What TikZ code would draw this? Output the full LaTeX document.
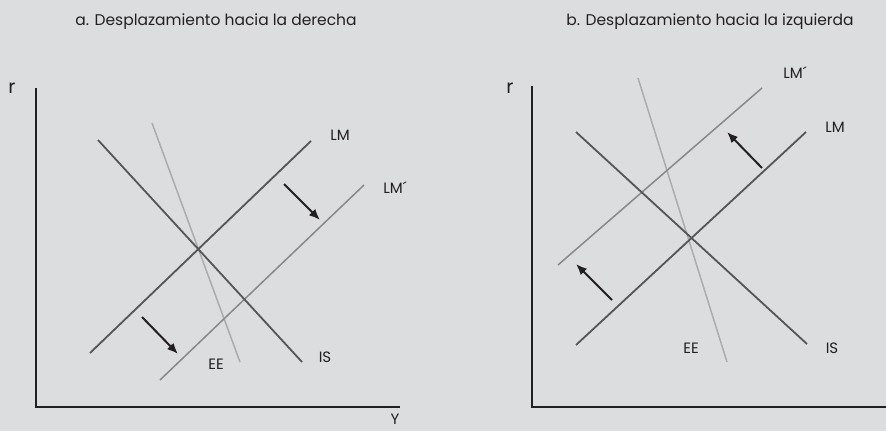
\documentclass[tikz,border=0pt]{standalone}
\usepackage{fontspec}
\setmainfont{Poppins}
\usetikzlibrary{arrows.meta}

\definecolor{bggray}{HTML}{DCDDDF}
\definecolor{inkgray}{HTML}{231F20}
\definecolor{darkcurve}{HTML}{555557}
\definecolor{midcurve}{HTML}{88888A}
\definecolor{lightcurve}{HTML}{ABACAE}

\begin{document}
\begin{tikzpicture}[
        x=1pt,
        y=-1pt,
        axis/.style={
            draw=inkgray,
            line width=2.2pt
        },
        curve/.style={
            draw=darkcurve,
            line width=1.8pt
        },
        curvenew/.style={
            draw=midcurve,
            line width=1.5pt
        },
        curveee/.style={
            draw=lightcurve,
            line width=1.5pt
        },
        shiftarrow/.style={
            draw=inkgray,
            line width=2pt,
            -{Latex[length=11pt,width=9pt]}
        },
        lbl/.style={
            text=inkgray,
            inner sep=0pt,
            font=\fontsize{15}{17}\selectfont
        },
        axislbl/.style={
            text=inkgray,
            inner sep=0pt,
            font=\fontsize{19}{21}\selectfont
        },
        paneltitle/.style={
            text=inkgray,
            inner sep=0pt,
            font=\fontsize{15.5}{17}\selectfont
        }
        ]
        
        % Background
        \fill[bggray] (0,0) rectangle (886,431);
        \useasboundingbox (0,0) rectangle (886,431);
        
        % Panel a
        \node[paneltitle] (titlea) at (216,22) {a. Desplazamiento hacia la derecha};
        \node[axislbl] (ra) at (12,88) {r};
        \node[lbl, anchor=south] (ya) at (395,425) {Y};
        
        \coordinate (a0) at (36,407);
        \draw[axis] (36,88) coordinate (atop) -- (a0) -- (400,407) coordinate (aright);
        
        \coordinate (isa1) at (98,140);
        \coordinate (isa2) at (302,362);
        \coordinate (lma1) at (90,353);
        \coordinate (lma2) at (311,141);
        \coordinate (eea1) at (152,123);
        \coordinate (eea2) at (240,362);
        \coordinate (lmpa1) at (160,380);
        \coordinate (lmpa2) at (364,185);
        
        \draw[curveee] (eea1) -- (eea2);
        \draw[curvenew] (lmpa1) -- (lmpa2);
        \draw[curve] (isa1) -- (isa2);
        \draw[curve] (lma1) -- (lma2);
        
        \node[lbl] (lmla) at (340,135) {LM};
        \node[lbl] (lmpla) at (395,188) {LM´};
        \node[lbl] (eela) at (216,364) {EE};
        \node[lbl] (isla) at (325,357) {IS};
        
        \coordinate (arra1) at (284,184);
        \coordinate (arra2) at (320,220);
        \coordinate (arra3) at (142,317);
        \coordinate (arra4) at (178,354);
        \draw[shiftarrow] (arra1) -- (arra2);
        \draw[shiftarrow] (arra3) -- (arra4);
        
        % Panel b
        \node[paneltitle] (titleb) at (710,22) {b. Desplazamiento hacia la izquierda};
        \node[axislbl] (rb) at (510,88) {r};
        
        \coordinate (b0) at (532,407);
        \draw[axis] (532,86) coordinate (btop) -- (b0) -- (886,407) coordinate (bright);
        
        \coordinate (eeb1) at (638,78);
        \coordinate (eeb2) at (727,362);
        \coordinate (lmpb1) at (558,265);
        \coordinate (lmpb2) at (762,88);
        \coordinate (lmb1) at (576,345);
        \coordinate (lmb2) at (806,132);
        \coordinate (isb1) at (576,132);
        \coordinate (isb2) at (807,344);
        
        \draw[curveee] (eeb1) -- (eeb2);
        \draw[curvenew] (lmpb1) -- (lmpb2);
        \draw[curve] (isb1) -- (isb2);
        \draw[curve] (lmb1) -- (lmb2);
        
        \node[lbl] (lmplb) at (795,73) {LM´};
        \node[lbl] (lmlb) at (835,127) {LM};
        \node[lbl] (eelb) at (691,348) {EE};
        \node[lbl] (islb) at (832,348) {IS};
        
        \coordinate (arrb1) at (762,168);
        \coordinate (arrb2) at (727,132);
        \coordinate (arrb3) at (612,300);
        \coordinate (arrb4) at (576,264);
        \draw[shiftarrow] (arrb1) -- (arrb2);
        \draw[shiftarrow] (arrb3) -- (arrb4);
        
    \end{tikzpicture}
\end{document}
